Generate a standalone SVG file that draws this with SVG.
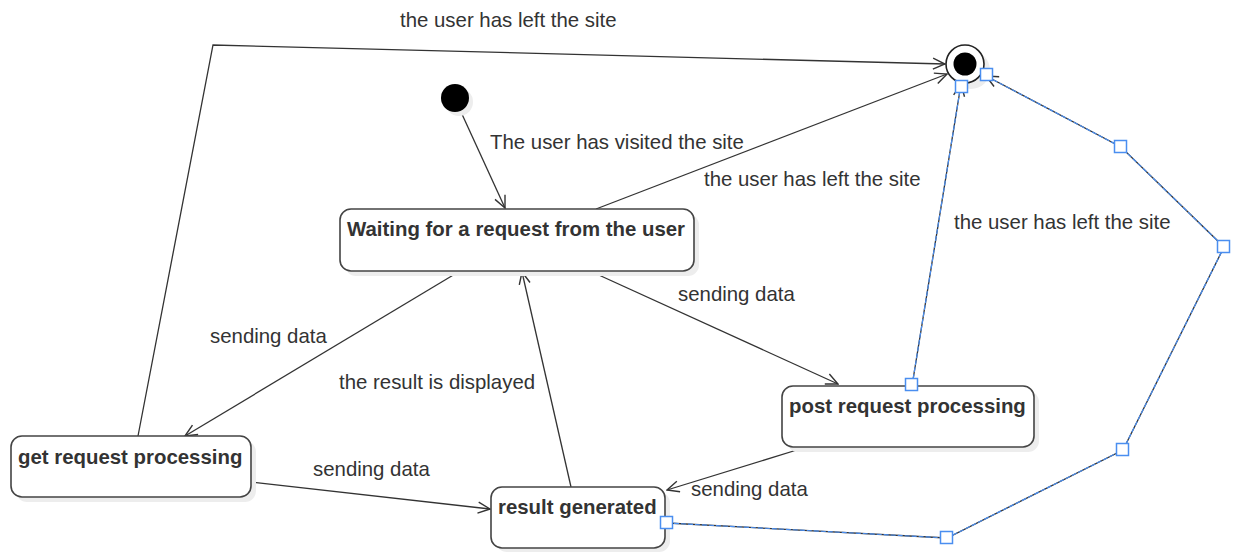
<svg xmlns="http://www.w3.org/2000/svg" width="1233" height="552" viewBox="0 0 1233 552">
  <defs>
    <marker id="open" viewBox="0 0 14 14" refX="13" refY="7" markerWidth="14" markerHeight="14" markerUnits="userSpaceOnUse" orient="auto">
      <path d="M1,1.5 L13,7 L1,12.5" fill="none" stroke="#333" stroke-width="1.4"/>
    </marker>
  </defs>
  <style>
    .state { fill: #fff; stroke: #444; stroke-width: 1.6; }
    .shadow { fill: #ededed; }
    .name { font-family: "Liberation Sans", Arial, sans-serif; font-size: 20.4px; font-weight: bold; fill: #333; }
    .lbl { font-family: "Liberation Sans", Arial, sans-serif; font-size: 20.4px; fill: #333; }
    .edge { fill: none; stroke: #333; stroke-width: 1.3; }
    .sel { fill: none; stroke: #4a8ef0; stroke-width: 1.2; stroke-dasharray: 5 2; }
    .handle { fill: #fff; stroke: #4a8ef0; stroke-width: 1.5; }
  </style>
  <rect width="1233" height="552" fill="#fff"/>

  <!-- connectors -->
  <g id="connectors">
    <path class="edge" d="M461,112 L505,208" marker-end="url(#open)"/>
    <path class="edge" d="M138,436 L213,45 L945,64" marker-end="url(#open)"/>
    <path class="edge" d="M596,209 L947,74" marker-end="url(#open)"/>
    <path class="edge" d="M460,271 L185,436" marker-end="url(#open)"/>
    <path class="edge" d="M571,487 L522,272" marker-end="url(#open)"/>
    <path class="edge" d="M590,271 L838,384" marker-end="url(#open)"/>
    <path class="edge" d="M251,482 L490,509" marker-end="url(#open)"/>
    <path class="edge" d="M800,449 L667,490" marker-end="url(#open)"/>
    <path class="edge" d="M912,386 L961,84" marker-end="url(#open)"/>
    <path class="sel" d="M912,386 L961,84"/>
    <path class="edge" d="M667,523 L947,538 L1123,450 L1224,247 L1121,147 L986,76" marker-end="url(#open)"/>
    <path class="sel" d="M667,523 L947,538 L1123,450 L1224,247 L1121,147 L986,76"/>

    <text class="lbl" x="400" y="27">the user has left the site</text>
    <text class="lbl" x="490" y="149">The user has visited the site</text>
    <text class="lbl" x="704" y="186">the user has left the site</text>
    <text class="lbl" x="954" y="229">the user has left the site</text>
    <text class="lbl" x="678" y="301">sending data</text>
    <text class="lbl" x="210" y="343">sending data</text>
    <text class="lbl" x="339" y="389">the result is displayed</text>
    <text class="lbl" x="313" y="476">sending data</text>
    <text class="lbl" x="691" y="496">sending data</text>
  </g>

  <g id="initial">
    <circle class="shadow" cx="459" cy="102" r="14"/>
    <circle cx="455" cy="98" r="14" fill="#000"/>
  </g>

  <g id="final">
    <circle class="shadow" cx="971" cy="70" r="19"/>
    <circle cx="965" cy="64" r="19" fill="#fff" stroke="#222" stroke-width="1.6"/>
    <circle cx="965" cy="64" r="11.5" fill="#000"/>
  </g>

  <g id="waiting">
    <rect class="shadow" x="345" y="214" width="354" height="62" rx="11"/>
    <rect class="state" x="340" y="209" width="354" height="62" rx="11"/>
    <text class="name" x="347" y="236">Waiting for a request from the user</text>
  </g>

  <g id="get-request">
    <rect class="shadow" x="16" y="441" width="240" height="61" rx="11"/>
    <rect class="state" x="11" y="436" width="240" height="61" rx="11"/>
    <text class="name" x="18" y="464">get request processing</text>
  </g>

  <g id="post-request">
    <rect class="shadow" x="787" y="391" width="252" height="61" rx="11"/>
    <rect class="state" x="782" y="386" width="252" height="61" rx="11"/>
    <text class="name" x="789" y="413">post request processing</text>
  </g>

  <g id="result">
    <rect class="shadow" x="496" y="492" width="174" height="60" rx="11"/>
    <rect class="state" x="491" y="487" width="174" height="61" rx="11"/>
    <text class="name" x="498" y="514">result generated</text>
  </g>

  <!-- edit handles of the selected connectors, above everything -->
  <g id="handles">
    <rect class="handle" x="905.5" y="378.5" width="12" height="12"/>
    <rect class="handle" x="955.5" y="80.5" width="12" height="12"/>
    <rect class="handle" x="980.5" y="68.5" width="12" height="12"/>
    <rect class="handle" x="1114.5" y="140.5" width="12" height="12"/>
    <rect class="handle" x="1217.5" y="240.5" width="12" height="12"/>
    <rect class="handle" x="1116.5" y="443.5" width="12" height="12"/>
    <rect class="handle" x="940.5" y="531.5" width="12" height="12"/>
    <rect class="handle" x="660.5" y="516.5" width="12" height="12"/>
  </g>
</svg>
